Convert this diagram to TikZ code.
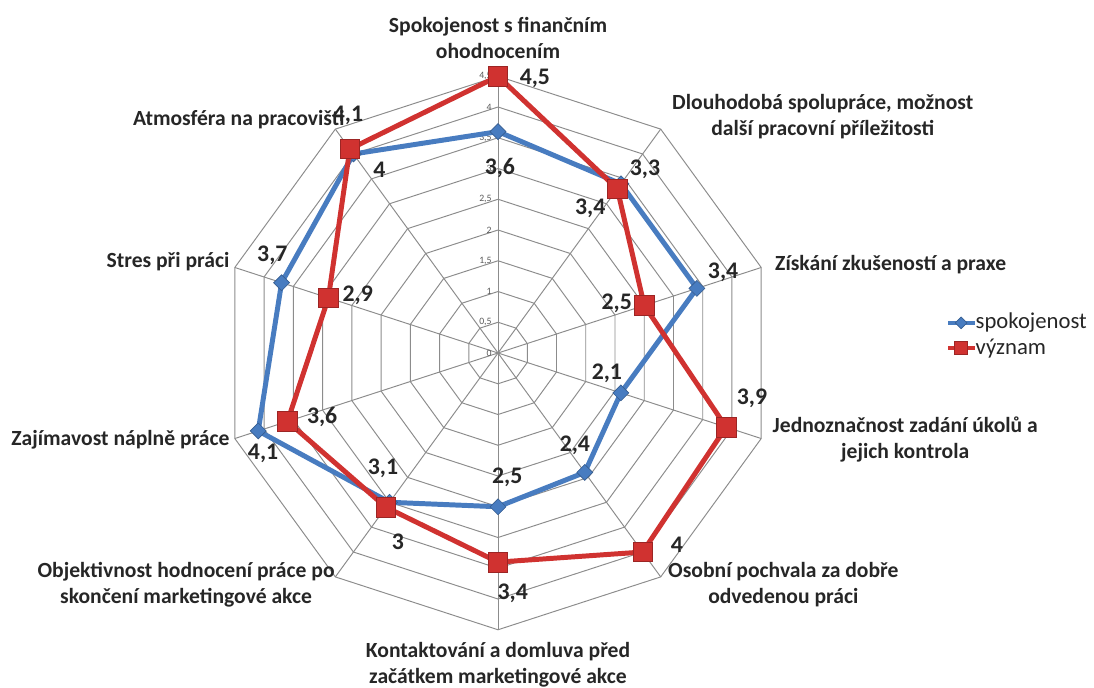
\documentclass[tikz,border=0pt]{standalone}
\usepackage{fontspec}
\setmainfont{Carlito}
\usetikzlibrary{shapes.geometric}

\definecolor{serblue}{RGB}{72,124,192}
\definecolor{serred}{RGB}{208,50,48}
\definecolor{gridgray}{RGB}{140,140,140}

\tikzset{
  gridline/.style={draw=gridgray, line width=0.45pt},
  bluepath/.style={draw=serblue, line width=2.3pt, line join=round},
  redpath/.style={draw=serred, line width=2.3pt, line join=round},
  bluemark/.style={diamond, fill=serblue, draw=serblue!75!black, line width=0.3pt, inner sep=0pt, minimum size=7.5pt},
  redmark/.style={rectangle, fill=serred, draw=serred!75!black, line width=0.3pt, inner sep=0pt, minimum size=9pt},
  catlabel/.style={font=\fontsize{10}{12}\selectfont\bfseries, align=center, text=black!85, inner sep=0pt},
  vallabel/.style={font=\fontsize{11}{13}\selectfont\bfseries, text=black!85, inner sep=0pt},
  ticklabel/.style={font=\fontsize{4.5}{5}\selectfont, text=black!65, anchor=east, inner sep=0.5pt},
  legtext/.style={font=\fontsize{10.5}{12}\selectfont, text=black!85, anchor=west, inner sep=0pt}
}

\begin{document}
\begin{tikzpicture}[x=1cm, y=1cm]
  \useasboundingbox (-8.098,-5.431) rectangle (9.691,5.740);

  % Rings
  \foreach \r in {0.5,1,...,4.5}{
    \draw[gridline] (90:\r) \foreach \k in {1,...,9}{ -- ({90-36*\k}:\r) } -- cycle;
  }

  % Spokes
  \foreach \k in {0,...,9}
    \draw[gridline] (0,0) -- ({90-36*\k}:4.5);

  % Scale on the top spoke
  \foreach \i/\t in {0/0, 1/{0,5}, 2/1, 3/{1,5}, 4/2, 5/{2,5}, 6/3, 7/{3,5}, 8/4, 9/{4,5}}
    \node[ticklabel] (tk\i) at (-0.08,{0.5*\i}) {\t};

  % Data points
  \foreach \k/\v in {0/3.6, 1/3.4, 2/3.4, 3/2.1, 4/2.4, 5/2.5, 6/3, 7/4.1, 8/3.7, 9/4}
    \coordinate (b\k) at ({90-36*\k}:\v);
  \foreach \k/\v in {0/4.5, 1/3.3, 2/2.5, 3/3.9, 4/4, 5/3.4, 6/3.1, 7/3.6, 8/2.9, 9/4.1}
    \coordinate (r\k) at ({90-36*\k}:\v);

  % Series spokojenost
  \draw[bluepath] (b0) -- (b1) -- (b2) -- (b3) -- (b4) -- (b5) -- (b6) -- (b7) -- (b8) -- (b9) -- cycle;
  \foreach \k in {0,...,9}
    \node[bluemark] (bm\k) at (b\k) {};

  % Series vyznam
  \draw[redpath] (r0) -- (r1) -- (r2) -- (r3) -- (r4) -- (r5) -- (r6) -- (r7) -- (r8) -- (r9) -- cycle;
  \foreach \k in {0,...,9}
    \node[redmark] (rm\k) at (r\k) {};

  % Value labels
  \foreach \k/\x/\y/\t in {0/0.03/3.01/{3,6}, 1/1.50/2.36/{3,4}, 2/3.66/1.32/{3,4}, 3/1.77/-0.33/{2,1},
      4/1.25/-1.50/{2,4}, 5/0.15/-2.02/{2,5}, 6/-1.63/-3.07/3, 7/-3.82/-1.63/{4,1}, 8/-3.67/1.59/{3,7}, 9/-1.93/2.98/4}
    \node[vallabel] (bl\k) at (\x,\y) {\t};
  \foreach \k/\x/\y/\t in {0/0.60/4.47/{4,5}, 1/2.39/2.98/{3,3}, 2/1.93/0.81/{2,5}, 3/4.13/-0.73/{3,9},
      4/2.91/-3.12/4, 5/0.24/-3.90/{3,4}, 6/-1.87/-1.87/{3,1}, 7/-2.86/-1.04/{3,6}, 8/-2.28/0.94/{2,9}, 9/-2.44/3.87/{4,1}}
    \node[vallabel] (rl\k) at (\x,\y) {\t};

  % Category labels
  \node[catlabel] (c0) at (0,5.12) {Spokojenost s finančním\\ohodnocením};
  \node[catlabel] (c1) at (5.28,3.84) {Dlouhodobá spolupráce, možnost\\další pracovní příležitosti};
  \node[catlabel, anchor=west] (c2) at (4.50,1.43) {Získání zkušeností a praxe};
  \node[catlabel, anchor=west] (c3) at (4.46,-1.41) {Jednoznačnost zadání úkolů a\\jejich kontrola};
  \node[catlabel, anchor=west] (c4) at (2.76,-3.77) {Osobní pochvala za dobře\\odvedenou práci};
  \node[catlabel] (c5) at (0,-5.07) {Kontaktování a domluva před\\začátkem marketingové akce};
  \node[catlabel, anchor=east] (c6) at (-2.65,-3.77) {Objektivnost hodnocení práce po\\skončení marketingové akce};
  \node[catlabel, anchor=east] (c7) at (-4.36,-1.41) {Zajímavost náplně práce};
  \node[catlabel, anchor=east] (c8) at (-4.36,1.48) {Stres při práci};
  \node[catlabel, anchor=east] (c9) at (-2.49,3.79) {Atmosféra na pracovišti};

  % Legend
  \node[legtext] (lgbt) at (7.76,0.49) {spokojenost};
  \node[legtext] (lgrt) at (7.76,0.08) {význam};
  \coordinate (lgbs) at (7.32,0.49);
  \coordinate (lgrs) at (7.32,0.08);
  \draw[bluepath, line width=1.8pt] (lgbs) -- (lgbt.west);
  \node[bluemark, minimum size=5.5pt] (lgbm) at (7.53,0.49) {};
  \draw[redpath, line width=1.8pt] (lgrs) -- (lgrt.west);
  \node[redmark, minimum size=6pt] (lgrm) at (7.53,0.08) {};
\end{tikzpicture}
\end{document}
